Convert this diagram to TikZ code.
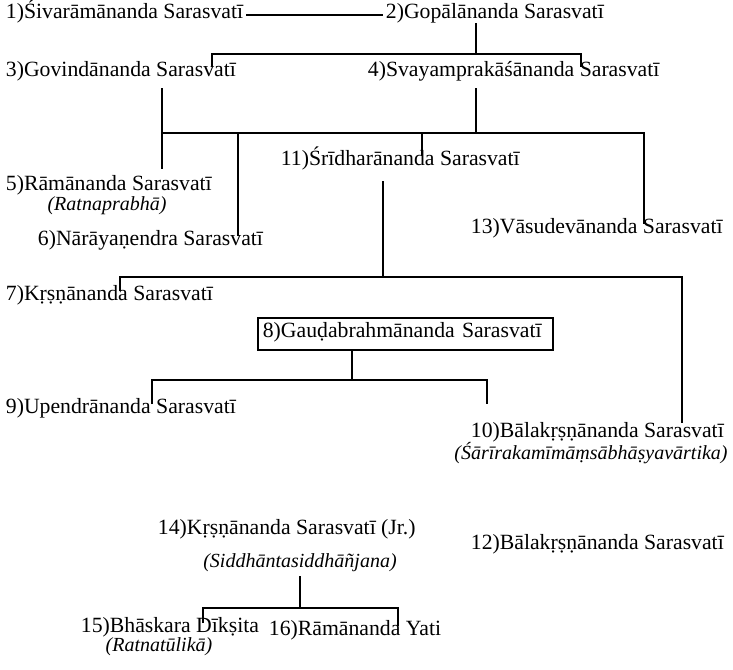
\documentclass[tikz,border=0pt]{standalone}
\usepackage{fontspec}
\setmainfont{Liberation Serif}
\begin{document}
\begin{tikzpicture}[x=0.75pt,y=-0.75pt,
  nm/.style={anchor=west,inner xsep=2pt,inner ysep=0pt,font=\fontsize{16.3}{18}\selectfont,text height=1.55ex,text depth=0.25ex},
  wk/.style={anchor=center,inner xsep=2pt,inner ysep=0pt,font=\fontsize{15}{17}\selectfont\itshape,text height=1.55ex,text depth=0.25ex},
  ln/.style={line width=1.3pt}]
\useasboundingbox (0,0) rectangle (733,670);
% names
\node[nm] (T1) at (3,15) {1)Śivarāmānanda Sarasvatī};
\node[nm] (T2) at (383,15) {2)Gopālānanda Sarasvatī};
\node[nm] (T3) at (3,73) {3)Govindānanda Sarasvatī};
\node[nm] (T4) at (365,73) {4)Svayamprakāśānanda Sarasvatī};
\node[nm] (T11) at (278,162) {11)Śrīdharānanda Sarasvatī};
\node[nm] (T5) at (3,187) {5)Rāmānanda Sarasvatī};
\node[wk] (R5) at (107,207) {(Ratnaprabhā)};
\node[nm] (T13) at (468,230) {13)Vāsudevānanda Sarasvatī};
\node[nm] (T6) at (35,242) {6)Nārāyaṇendra Sarasvatī};
\node[nm] (T7) at (3,297) {7)Kṛṣṇānanda Sarasvatī};
\node[nm,draw,line width=1.3pt,minimum width=295*0.75pt,minimum height=32*0.75pt,text width=285*0.75pt,align=left,inner xsep=3pt] (T8) at (257,334) {8)Gauḍabrahmānanda Sarasvatī};
\node[nm] (T9) at (3,410) {9)Upendrānanda Sarasvatī};
\node[nm] (T10) at (468,434) {10)Bālakṛṣṇānanda Sarasvatī};
\node[wk] (S10) at (591,456) {(Śārīrakamīmāṃsābhāṣyavārtika)};
\node[nm] (T14) at (155,531) {14)Kṛṣṇānanda Sarasvatī (Jr.)};
\node[nm] (T12) at (468,546) {12)Bālakṛṣṇānanda Sarasvatī};
\node[wk] (S14) at (300,564) {(Siddhāntasiddhāñjana)};
\node[nm] (T15) at (78,629) {15)Bhāskara Dīkṣita};
\node[wk] (R15) at (159,648) {(Ratnatūlikā)};
\node[nm] (T16) at (266,632) {16)Rāmānanda Yati};
% connectors
\draw[ln] (T1.east) -- (T2.west);
\coordinate (a1) at (476,54);
\coordinate (a2) at (212,54);
\coordinate (a3) at (581,54);
\draw[ln,shorten <=2pt] (T2.south -| a1) -- (a1);
\draw[ln] (T3.north -| a2) -- (a2) -- (a3) -- (T4.north -| a3);
\coordinate (b1) at (162,133);
\coordinate (b2) at (238,133);
\coordinate (b3) at (422,133);
\coordinate (b4) at (476,133);
\coordinate (b5) at (644,133);
\draw[ln,shorten <=7pt] (T3.south -| b1) -- (b1) -- (b5) -- (T13.north -| b5);
\draw[ln,shorten >=9pt] (b1) -- (T5.north -| b1);
\draw[ln,shorten <=7pt] (T4.south -| b4) -- (b4);
\draw[ln] (b2) -- (T6.north -| b2);
\draw[ln] (b3) -- (T11.north -| b3);
\coordinate (c1) at (383,277);
\coordinate (c2) at (120,277);
\coordinate (c3) at (682,277);
\draw[ln,shorten <=10pt] (T11.south -| c1) -- (c1);
\draw[ln,shorten >=4pt] (T7.north -| c2) -- (c2) -- (c3) -- (T10.north -| c3);
\coordinate (d1) at (352,380);
\coordinate (d2) at (152,380);
\coordinate (d3) at (487,380);
\draw[ln] (T8.south -| d1) -- (d1);
\draw[ln] (T9.north -| d2) -- (d2) -- (d3) -- (T9.north -| d3);
\coordinate (e1) at (300,608);
\coordinate (e2) at (203,608);
\coordinate (e3) at (398,608);
\draw[ln,shorten <=5pt] (S14.south -| e1) -- (e1);
\draw[ln] (T15.north -| e2) -- (e2) -- (e3) -- (T16.north -| e3);
\end{tikzpicture}
\end{document}
